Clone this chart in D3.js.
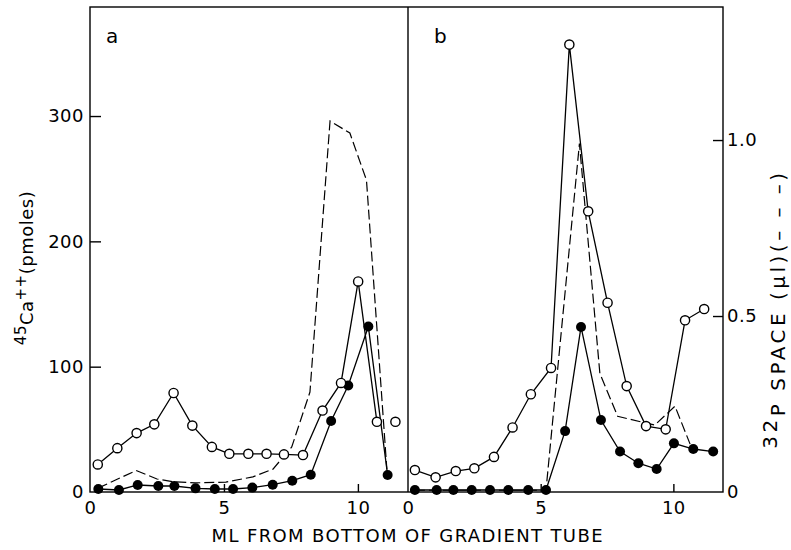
<!DOCTYPE html>
<html>
<head>
<meta charset="utf-8">
<script src="https://cdn.jsdelivr.net/npm/d3@7/dist/d3.min.js"></script>
<style>
  html, body { margin: 0; padding: 0; background: #fff; }
  svg { display: block; }
  text { font-family: "DejaVu Sans", sans-serif; font-weight: normal; fill: #000; }
</style>
</head>
<body>
<svg id="chart" width="791" height="550"></svg>
<script>
// Fractions collected from the gradient tube: [ml from bottom, value]
// Panel a — 45Ca++ (pmoles), open circles
const openA = [[0.29,22],[1.02,35],[1.74,47],[2.40,54],[3.12,79],[3.82,53],[4.55,36],[5.20,30.5],
  [5.91,30.5],[6.59,30.5],[7.24,30],[7.95,29.5],[8.68,65],[9.37,87],[10.01,168],[10.71,56]];
const openATail = [[11.40,56]];
// Panel a — 45Ca++ (pmoles), filled circles
const filledA = [[0.31,2.4],[1.08,1.6],[1.78,5.6],[2.55,4.8],[3.15,4.8],[3.94,2.9],[4.66,2.4],[5.34,2.4],
  [6.06,3.5],[6.82,5.8],[7.55,9],[8.24,13.8],[9.00,56.6],[9.64,85],[10.39,132],[11.11,13.5]];
// Panel a — 32P space (µl), dashed
const dashedA = [[0.30,0.011],[1.72,0.061],[2.50,0.037],[3.10,0.029],[3.92,0.026],[5.07,0.028],[6.08,0.043],
  [6.83,0.065],[7.53,0.128],[8.21,0.284],[8.96,1.054],[9.70,1.02],[10.32,0.886],[11.08,0.065]];

// Panel b — 45Ca++ (pmoles), open circles
const openB = [[0.26,17.5],[1.04,11.7],[1.80,16.7],[2.50,18.9],[3.24,28],[3.94,51.5],[4.63,78],[5.39,99],
  [6.08,357],[6.79,224],[7.52,151],[8.24,84.5],[8.97,52.6],[9.71,50],[10.44,137],[11.16,146]];
// Panel b — 45Ca++ (pmoles), filled circles
const filledB = [[0.26,1.6],[1.08,1.6],[1.71,1.6],[2.40,1.6],[3.09,1.6],[3.78,1.6],[4.53,1.6],[5.20,1.6],
  [5.92,48.6],[6.52,131.7],[7.27,57.4],[7.99,32.3],[8.68,23],[9.37,18.3],[10.02,38.8],[10.75,34.3],[11.50,32.3]];
// Panel b — 32P space (µl), dashed
const dashedB = [[0.26,0.005],[5.20,0.005],[6.46,0.99],[7.23,0.337],[7.90,0.215],[9.30,0.19],
  [10.06,0.244],[10.63,0.136]];

// Axis ticks
const xTicks = [0, 5, 10];
const caTicks = [0, 100, 200, 300];
const pTicks = [0, 0.5, 1.0];

const svg = d3.select("#chart");
const plotTop = 7, plotBottom = 492, plotLeft = 90, plotMid = 408, plotRight = 723;

const xA = d3.scaleLinear().domain([0, 11.87]).range([plotLeft, plotMid]);
const xB = d3.scaleLinear().domain([0, 11.87]).range([plotMid, plotRight]);
const yCa = d3.scaleLinear().domain([0, 387]).range([plotBottom, plotTop]);
const yP = d3.scaleLinear().domain([0, 1.378]).range([plotBottom, plotTop]);

// Axes (ticks point inward, frame drawn separately)
function styleAxis(g) {
  g.select(".domain").remove();
  g.selectAll(".tick line").attr("stroke", "#000").attr("stroke-width", 1.4);
  g.selectAll(".tick text").attr("font-size", 18).attr("fill", "#000")
    .attr("font-family", "DejaVu Sans, sans-serif").attr("letter-spacing", 0.5);
}

svg.append("g").attr("transform", `translate(${plotLeft},0)`)
  .call(d3.axisLeft(yCa).tickValues(caTicks).tickSizeInner(-11).tickSizeOuter(0).tickPadding(6))
  .call(styleAxis)
  .call(g => g.selectAll(".tick").filter(d => d === 0).select("line").remove());

svg.append("g").attr("transform", `translate(${plotRight},0)`)
  .call(d3.axisRight(yP).tickValues(pTicks).tickSizeInner(-10).tickSizeOuter(0).tickPadding(4)
    .tickFormat(d => d === 0 ? "0" : d3.format(".1f")(d)))
  .call(styleAxis)
  .call(g => g.selectAll(".tick").filter(d => d === 0).select("line").remove());

[xA, xB].forEach(x => {
  svg.append("g").attr("transform", `translate(0,${plotBottom})`)
    .call(d3.axisBottom(x).tickValues(xTicks).tickSizeInner(-8).tickSizeOuter(0).tickPadding(9))
    .call(styleAxis)
    .call(g => g.selectAll(".tick").filter(d => d === 0).select("line").remove());
});

// Frame
const frame = svg.append("g").attr("fill", "none").attr("stroke", "#000").attr("stroke-width", 1.4);
frame.append("rect").attr("x", plotLeft).attr("y", plotTop)
  .attr("width", plotRight - plotLeft).attr("height", plotBottom - plotTop);
frame.append("line").attr("x1", plotMid).attr("x2", plotMid).attr("y1", plotTop).attr("y2", plotBottom);

// Series
function drawPanel(x, open, openTail, filled, dashed) {
  const g = svg.append("g");
  const lineCa = d3.line().x(d => x(d[0])).y(d => yCa(d[1]));
  const lineP = d3.line().x(d => x(d[0])).y(d => yP(d[1]));
  g.append("path").attr("d", lineP(dashed)).attr("fill", "none").attr("stroke", "#000")
    .attr("stroke-width", 1.2).attr("stroke-dasharray", "10,4");
  g.append("path").attr("d", lineCa(filled)).attr("fill", "none").attr("stroke", "#000").attr("stroke-width", 1.3);
  g.append("path").attr("d", lineCa(open)).attr("fill", "none").attr("stroke", "#000").attr("stroke-width", 1.3);
  g.selectAll("circle.f").data(filled).join("circle").attr("class", "f")
    .attr("cx", d => x(d[0])).attr("cy", d => yCa(d[1])).attr("r", 5).attr("fill", "#000");
  g.selectAll("circle.o").data(open.concat(openTail)).join("circle").attr("class", "o")
    .attr("cx", d => x(d[0])).attr("cy", d => yCa(d[1])).attr("r", 4.6)
    .attr("fill", "#fff").attr("stroke", "#000").attr("stroke-width", 1.4);
}
drawPanel(xA, openA, openATail, filledA, dashedA);
drawPanel(xB, openB, [], filledB, dashedB);

// Panel letters
svg.append("text").attr("x", 106).attr("y", 43).attr("font-size", 20).text("a");
svg.append("text").attr("x", 434).attr("y", 43).attr("font-size", 20).text("b");

// Axis titles
svg.append("text").attr("x", 407).attr("y", 542).attr("text-anchor", "middle")
  .attr("font-size", 18).attr("textLength", 391).attr("lengthAdjust", "spacing")
  .text("ML FROM BOTTOM OF GRADIENT TUBE");

const leftTitle = svg.append("text").attr("transform", "translate(33,268) rotate(-90)")
  .attr("text-anchor", "middle").attr("font-size", 18).attr("letter-spacing", 0.5);
leftTitle.append("tspan").attr("font-size", 15).attr("dy", -7).text("45");
leftTitle.append("tspan").attr("dy", 7).text("Ca");
leftTitle.append("tspan").attr("font-size", 15).attr("dy", -7).text("++");
leftTitle.append("tspan").attr("dy", 7).text("(pmoles)");

const rightTitle = svg.append("text").attr("transform", "translate(785,309) rotate(-90)")
  .attr("text-anchor", "middle").attr("font-size", 20).attr("letter-spacing", 3.5);
rightTitle.append("tspan").attr("dy", -8).text("32");
rightTitle.append("tspan").attr("dy", 8).text("P SPACE (μl)(– – –)");
</script>
</body>
</html>
